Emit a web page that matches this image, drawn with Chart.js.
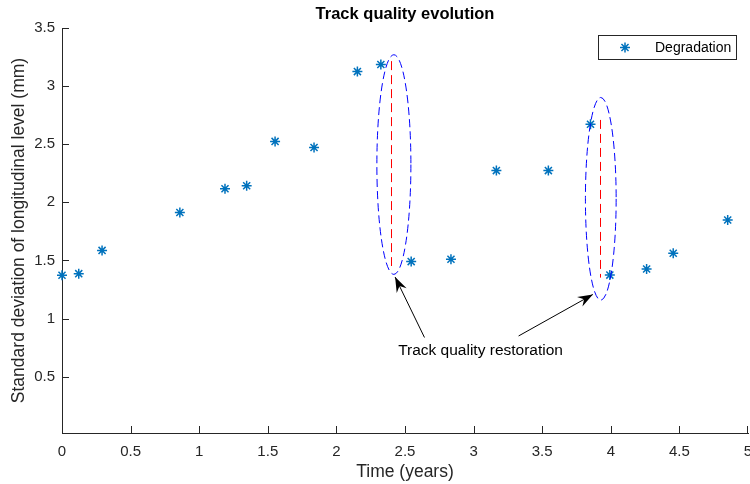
<!DOCTYPE html>
<html lang="en">
<head>
<meta charset="UTF-8">
<title>Track quality evolution</title>
<script src="https://cdn.jsdelivr.net/npm/chart.js@4/dist/chart.umd.min.js"></script>
<style>
    html, body { margin: 0; padding: 0; background: #fff; }
    #wrap { width: 750px; height: 484px; }
</style>
</head>
<body>
<div id="wrap"><canvas id="chart"></canvas></div>
<script>
// measured standard deviation of longitudinal level over time
const years  = [0, 0.122, 0.292, 0.859, 1.188, 1.346, 1.553, 1.837, 2.153, 2.324, 2.545, 2.835, 3.166, 3.545, 3.852, 3.993, 4.261, 4.455, 4.852];
const stdDev = [1.372, 1.386, 1.586, 1.912, 2.117, 2.143, 2.524, 2.472, 3.125, 3.186, 1.490, 1.510, 2.273, 2.273, 2.672, 1.374, 1.426, 1.562, 1.848];

const xTickValues = [0, 0.5, 1, 1.5, 2, 2.5, 3, 3.5, 4, 4.5, 5];
const yTickValues = [0.5, 1, 1.5, 2, 2.5, 3, 3.5];

// maintenance jumps: dashed ellipse + red drop line (data units)
const restorations = [
    { cx: 2.419, cy: 2.325, rx: 0.124, ry: 0.945, x: 2.40, from: 3.215, to: 1.452 },
    { cx: 3.927, cy: 2.030, rx: 0.112, ry: 0.872, x: 3.92, from: 2.709, to: 1.352 }
];
const arrows = [
    { from: [2.642, 0.837], to: [2.428, 1.357] },
    { from: [3.328, 0.850], to: [3.869, 1.207] }
];
const noteText = 'Track quality restoration';
const notePos = [2.45, 0.722];

const FONT = "'Liberation Sans', Arial, Helvetica, sans-serif";
const AXIS = '#262626';
const BLUE = '#0072BD';

function drawStar(ctx, x, y, r) {
    ctx.beginPath();
    for (let i = 0; i < 4; i++) {
        const a = i * Math.PI / 4;
        ctx.moveTo(x - r * Math.cos(a), y - r * Math.sin(a));
        ctx.lineTo(x + r * Math.cos(a), y + r * Math.sin(a));
    }
    ctx.stroke();
}

function drawArrow(ctx, x0, y0, x1, y1) {
    ctx.beginPath();
    ctx.moveTo(x0, y0);
    ctx.lineTo(x1, y1);
    ctx.stroke();

    const ang = Math.atan2(y1 - y0, x1 - x0);
    const len = 15, half = 5.5, back = 10;
    const cos = Math.cos(ang), sin = Math.sin(ang);
    const pt = (a, b) => [x1 - a * cos + b * sin, y1 - a * sin - b * cos];
    const p1 = pt(len, half), p2 = pt(back, 0), p3 = pt(len, -half);
    ctx.beginPath();
    ctx.moveTo(x1, y1);
    ctx.lineTo(p1[0], p1[1]);
    ctx.lineTo(p2[0], p2[1]);
    ctx.lineTo(p3[0], p3[1]);
    ctx.closePath();
    ctx.fill();
}

const decorations = {
    id: 'decorations',
    afterDraw(chart) {
        const { ctx, chartArea } = chart;
        const xs = chart.scales.x, ys = chart.scales.y;
        const px = v => xs.getPixelForValue(v);
        const py = v => ys.getPixelForValue(v);

        ctx.save();

        // inward tick marks
        ctx.strokeStyle = AXIS;
        ctx.lineWidth = 1;
        ctx.beginPath();
        xTickValues.forEach(v => {
            const x = Math.min(Math.round(px(v)) + 0.5, chartArea.right - 0.5);
            ctx.moveTo(x, chartArea.bottom);
            ctx.lineTo(x, chartArea.bottom - 7);
        });
        yTickValues.forEach(v => {
            const y = Math.round(py(v)) + 0.5;
            ctx.moveTo(chartArea.left, y);
            ctx.lineTo(chartArea.left + 7, y);
        });
        ctx.stroke();

        // ellipses and drop lines
        restorations.forEach(r => {
            ctx.setLineDash([8, 4]);
            ctx.strokeStyle = '#0000FF';
            ctx.lineWidth = 1;
            ctx.beginPath();
            ctx.ellipse(px(r.cx), py(r.cy),
                Math.abs(px(r.cx + r.rx) - px(r.cx)),
                Math.abs(py(r.cy + r.ry) - py(r.cy)),
                0, 0, Math.PI * 2);
            ctx.stroke();

            const lx = Math.round(px(r.x)) + 0.5;
            ctx.setLineDash([9, 5]);
            ctx.strokeStyle = '#FF0000';
            ctx.beginPath();
            ctx.moveTo(lx, py(r.from));
            ctx.lineTo(lx, py(r.to));
            ctx.stroke();
        });
        ctx.setLineDash([]);

        // arrows + note
        ctx.strokeStyle = '#000';
        ctx.fillStyle = '#000';
        ctx.lineWidth = 1;
        arrows.forEach(a => drawArrow(ctx, px(a.from[0]), py(a.from[1]), px(a.to[0]), py(a.to[1])));

        ctx.font = '15.5px ' + FONT;
        ctx.textAlign = 'left';
        ctx.textBaseline = 'middle';
        ctx.fillText(noteText, px(notePos[0]), py(notePos[1]));

        // legend box, top right
        const lx = 598.5, ly = 35.5, lw = 138, lh = 24;
        ctx.fillStyle = '#fff';
        ctx.fillRect(lx, ly, lw, lh);
        ctx.strokeStyle = AXIS;
        ctx.strokeRect(lx, ly, lw, lh);
        ctx.strokeStyle = BLUE;
        ctx.lineWidth = 1.5;
        drawStar(ctx, lx + 26.5, ly + 12, 5);
        ctx.fillStyle = '#000';
        ctx.font = '14px ' + FONT;
        ctx.fillText(chart.data.datasets[0].label, lx + 56.5, ly + 12.5);

        ctx.restore();
    }
};

new Chart(document.getElementById('chart'), {
    type: 'scatter',
    data: {
        datasets: [{
            label: 'Degradation',
            data: years.map((t, i) => ({ x: t, y: stdDev[i] })),
            pointStyle: 'star',
            pointRadius: 5,
            borderColor: BLUE,
            backgroundColor: BLUE,
            borderWidth: 1.5,
            clip: false
        }]
    },
    options: {
        responsive: true,
        maintainAspectRatio: false,
        animation: false,
        devicePixelRatio: 1,
        layout: { autoPadding: false, padding: { left: 0, right: 2, top: 0, bottom: 0 } },
        plugins: {
            legend: { display: false },
            tooltip: { enabled: false },
            title: {
                display: true,
                fullSize: false,
                text: 'Track quality evolution',
                color: '#000',
                font: { family: FONT, size: 16.5, weight: 'bold', lineHeight: 1.2 },
                padding: { top: 5, bottom: 3.2 }
            }
        },
        scales: {
            x: {
                type: 'linear',
                min: 0,
                max: 5,
                afterBuildTicks: s => { s.ticks = xTickValues.map(v => ({ value: v })); },
                afterFit: s => { s.height = 51; s.paddingLeft = 0; s.paddingRight = 0; },
                grid: { display: false, drawTicks: false },
                border: { display: true, color: AXIS, width: 1 },
                ticks: {
                    color: AXIS,
                    padding: 10,
                    maxRotation: 0,
                    callback: v => String(v),
                    font: { family: FONT, size: 15 }
                },
                title: {
                    display: true,
                    text: 'Time (years)',
                    color: AXIS,
                    font: { family: FONT, size: 17.5, lineHeight: 1.2 },
                    padding: { top: 0, bottom: 1.5 }
                }
            },
            y: {
                type: 'linear',
                min: 0.015,
                max: 3.5,
                afterBuildTicks: s => { s.ticks = yTickValues.map(v => ({ value: v })); },
                afterFit: s => { s.width = 62; s.paddingTop = 0; s.paddingBottom = 0; },
                grid: { display: false, drawTicks: false },
                border: { display: true, color: AXIS, width: 1 },
                ticks: {
                    color: AXIS,
                    padding: 7,
                    callback: v => String(v),
                    font: { family: FONT, size: 15 }
                },
                title: {
                    display: true,
                    text: 'Standard deviation of longitudinal level (mm)',
                    color: AXIS,
                    font: { family: FONT, size: 17.5, lineHeight: 1.2 },
                    padding: { top: 9, bottom: 0 }
                }
            }
        }
    },
    plugins: [decorations]
});
</script>
</body>
</html>
